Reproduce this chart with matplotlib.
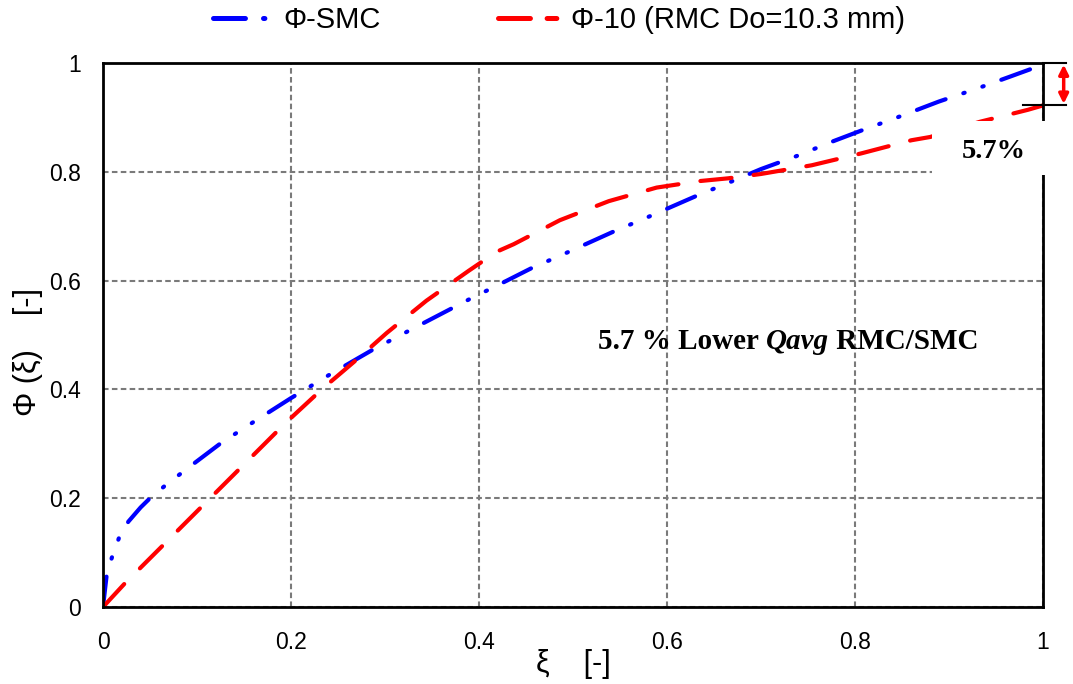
import matplotlib
matplotlib.use("Agg")
import matplotlib.pyplot as plt
from matplotlib.lines import Line2D
from matplotlib.patches import Rectangle

plt.rcParams['font.family'] = ['Liberation Sans', 'DejaVu Sans']
plt.rcParams['lines.scale_dashes'] = False

# Phi(xi) for the straight mixing chamber
xi_smc = [0.0, 0.004, 0.01, 0.017, 0.027, 0.04, 0.05, 0.066, 0.09, 0.126, 0.16,
          0.2, 0.24, 0.288, 0.34, 0.39, 0.424, 0.456, 0.493, 0.543, 0.58, 0.633,
          0.667, 0.70, 0.738, 0.775, 0.807, 0.845, 0.889, 0.933, 0.965, 1.0]
phi_smc = [0.0, 0.06, 0.094, 0.127, 0.157, 0.183, 0.20, 0.223, 0.255, 0.302, 0.34,
           0.384, 0.426, 0.474, 0.521, 0.566, 0.595, 0.623, 0.651, 0.69, 0.717, 0.757,
           0.781, 0.805, 0.829, 0.855, 0.876, 0.90, 0.929, 0.955, 0.975, 0.997]

# Phi(xi) for the RMC with Do = 10.3 mm
xi_rmc = [0.0, 0.023, 0.114, 0.194, 0.234, 0.27, 0.302, 0.344, 0.389, 0.406, 0.42,
          0.437, 0.486, 0.538, 0.589, 0.635, 0.665, 0.70, 0.754, 0.807, 0.86, 0.88,
          0.933, 0.961, 0.984, 1.0]
phi_rmc = [0.0, 0.043, 0.2, 0.338, 0.402, 0.455, 0.504, 0.563, 0.618, 0.638, 0.654,
           0.667, 0.711, 0.746, 0.771, 0.783, 0.788, 0.796, 0.812, 0.834, 0.858, 0.864,
           0.892, 0.904, 0.914, 0.922]

ticks = [0, 0.2, 0.4, 0.6, 0.8, 1]
tick_labels = ['0', '0.2', '0.4', '0.6', '0.8', '1']

label_smc = 'Φ-SMC'
label_rmc = 'Φ-10 (RMC Do=10.3 mm)'
diff_text = '5.7%'

BLUE = '#0000ff'
RED = '#ff0000'
LW = 3.0
dash_smc = (0, (22, 13.5, 1.0, 13.5, 1.0, 13.5))
dash_rmc = (0, (22.5, 16))

fig = plt.figure(figsize=(10.73, 6.84), dpi=100)
ax = fig.add_axes([103 / 1073, 1 - 607 / 684, 940 / 1073, 544 / 684])

ax.plot(xi_smc, phi_smc, color=BLUE, lw=LW, linestyle=dash_smc,
        dash_capstyle='round', zorder=3)
ax.plot(xi_rmc, phi_rmc, color=RED, lw=LW, linestyle=dash_rmc,
        dash_capstyle='round', zorder=3)

ax.set_xlim(0, 1)
ax.set_ylim(0, 1)
ax.set_xticks(ticks)
ax.set_xticklabels(tick_labels)
ax.set_yticks(ticks)
ax.set_yticklabels(tick_labels)
ax.tick_params(axis='both', length=0, labelsize=16.5)
ax.tick_params(axis='y', pad=16)
ax.tick_params(axis='x', pad=17)
ax.grid(True, color='#7a7a7a', linewidth=1.5, linestyle=(0, (4.0, 2.4)))
for s in ax.spines.values():
    s.set_linewidth(2.0)
    s.set_color('black')
    s.set_zorder(4)

ax.set_xlabel('ξ    [-]', fontsize=22, va='center')
ax.xaxis.set_label_coords(0.5, -0.105)
ax.set_ylabel('Φ (ξ)    [-]', fontsize=22, va='center')
ax.yaxis.set_label_coords(-0.080, 0.469)

# legend above the plot area
leg_y = 1 - 20 / 684
h_smc = Line2D([], [], color=BLUE, lw=3.6, linestyle=(0, (23, 13, 1.0, 13)),
               dash_capstyle='round')
h_rmc = Line2D([], [], color=RED, lw=3.6, linestyle=(0, (23, 12, 7, 40)),
               dash_capstyle='round')
leg1 = fig.legend([h_smc], [label_smc], loc='center left',
                  bbox_to_anchor=(213 / 1073, leg_y), frameon=False, fontsize=21,
                  handlelength=1.95, handletextpad=0.45, borderpad=0, borderaxespad=0)
leg2 = fig.legend([h_rmc], [label_rmc], loc='center left',
                  bbox_to_anchor=(498 / 1073, leg_y), frameon=False, fontsize=21,
                  handlelength=2.25, handletextpad=0.25, borderpad=0, borderaxespad=0)

# annotation in the middle of the chart
serif = ['Liberation Serif', 'DejaVu Serif']
t1 = ax.text(0.527, 0.474, '5.7 % Lower ', fontsize=21, fontweight='bold',
             family=serif, ha='left', va='baseline', zorder=6)
t2 = ax.annotate('Qavg', xy=(1, 0), xycoords=t1, fontsize=21, fontweight='bold',
                 fontstyle='italic', family=serif, ha='left', va='bottom', zorder=6)
t3 = ax.annotate(' RMC/SMC', xy=(1, 0), xycoords=t2, fontsize=21, fontweight='bold',
                 family=serif, ha='left', va='bottom', zorder=6)

# white label box near the right edge
ax.add_patch(Rectangle((0.882, 0.794), 0.13, 0.099, facecolor='white',
                       edgecolor='none', zorder=5, clip_on=False))
ax.text(0.948, 0.825, diff_text, fontsize=20.5, fontweight='bold', family=serif,
        ha='center', va='baseline', zorder=6)

# bracket marking the difference at xi = 1
end_smc = 1.0
end_rmc = phi_rmc[-1]
ax.plot([1.0, 1.024], [end_smc, end_smc], color='black', lw=1.5, clip_on=False, zorder=6)
ax.plot([0.979, 1.024], [end_rmc, end_rmc], color='black', lw=1.5, clip_on=False, zorder=6)
ax.annotate('', xy=(1.022, end_smc - 0.003), xytext=(1.022, end_rmc + 0.003),
            arrowprops=dict(arrowstyle='<|-|>', color=RED, lw=2.5,
                            mutation_scale=14, shrinkA=0, shrinkB=0),
            annotation_clip=False, zorder=6)

fig.savefig('out.png', dpi=100, facecolor='white')
